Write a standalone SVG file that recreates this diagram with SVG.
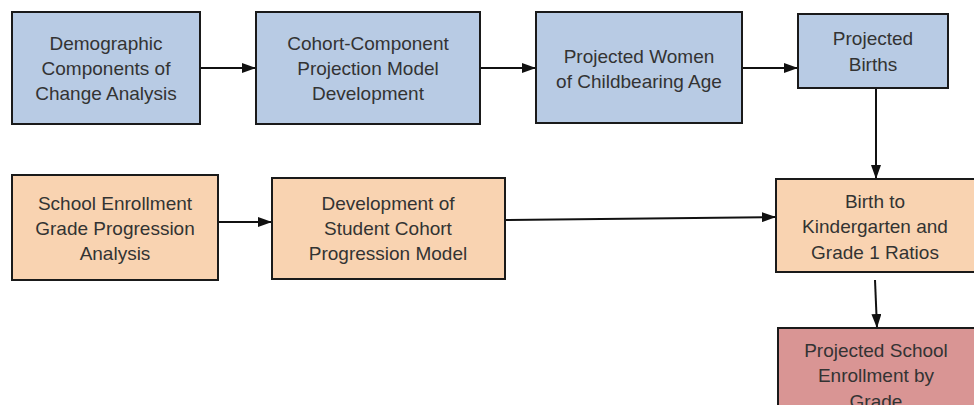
<svg xmlns="http://www.w3.org/2000/svg" width="974" height="405" viewBox="0 0 974 405">
<style>
.box{stroke:#1a1a1a;stroke-width:2}
.blue{fill:#b8cbe4}
.orange{fill:#f9d3b1}
.red{fill:#d99594}
text{font-family:"Liberation Sans",Arial,sans-serif;font-size:19px;fill:#333;text-anchor:middle}
.conn{stroke:#111;stroke-width:2;fill:none;marker-end:url(#ah)}
</style>
<defs>
<marker id="ah" viewBox="0 0 14 10" refX="14" refY="5" markerWidth="14" markerHeight="10" markerUnits="userSpaceOnUse" orient="auto">
<path d="M0,0 L14,5 L0,10 z" fill="#111"/>
</marker>
</defs>
<rect width="974" height="405" fill="#fff"/>
<g id="connectors">
<line class="conn" x1="200" y1="68" x2="256" y2="68"/>
<line class="conn" x1="480" y1="68" x2="536" y2="68"/>
<line class="conn" x1="742" y1="68" x2="798" y2="68"/>
<line class="conn" x1="876" y1="88" x2="876" y2="179"/>
<line class="conn" x1="218" y1="222" x2="272" y2="222"/>
<line class="conn" x1="505" y1="220" x2="776" y2="217"/>
<line class="conn" x1="875" y1="280" x2="877" y2="328"/>
</g>
<g id="n1">
<rect class="box blue" x="12" y="12" width="188" height="112"/>
<text x="106" y="50">Demographic</text>
<text x="106" y="75">Components of</text>
<text x="106" y="100">Change Analysis</text>
</g>
<g id="n2">
<rect class="box blue" x="256" y="12" width="224" height="112"/>
<text x="368" y="50">Cohort-Component</text>
<text x="368" y="75">Projection Model</text>
<text x="368" y="100">Development</text>
</g>
<g id="n3">
<rect class="box blue" x="536" y="12" width="206" height="111"/>
<text x="639" y="63">Projected Women</text>
<text x="639" y="88">of Childbearing Age</text>
</g>
<g id="n4">
<rect class="box blue" x="798" y="14" width="150" height="74"/>
<text x="873" y="45">Projected</text>
<text x="873" y="71">Births</text>
</g>
<g id="n5">
<rect class="box orange" x="12" y="175" width="206" height="105"/>
<text x="115" y="210">School Enrollment</text>
<text x="115" y="235">Grade Progression</text>
<text x="115" y="260">Analysis</text>
</g>
<g id="n6">
<rect class="box orange" x="272" y="178" width="233" height="101"/>
<text x="388" y="210">Development of</text>
<text x="388" y="235">Student Cohort</text>
<text x="388" y="260">Progression Model</text>
</g>
<g id="n7">
<rect class="box orange" x="776" y="179" width="200" height="93"/>
<text x="875" y="208">Birth to</text>
<text x="875" y="233">Kindergarten and</text>
<text x="875" y="259">Grade 1 Ratios</text>
</g>
<g id="n8">
<rect class="box red" x="778" y="328" width="200" height="100"/>
<text x="876" y="357">Projected School</text>
<text x="876" y="382">Enrollment by</text>
<text x="876" y="408">Grade</text>
</g>
</svg>
